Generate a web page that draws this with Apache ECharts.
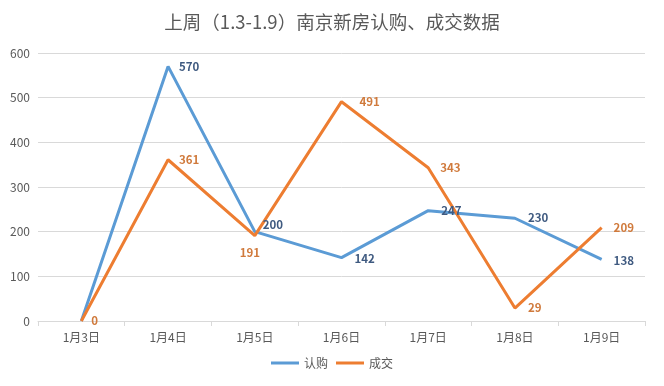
<!DOCTYPE html>
<html><head><meta charset="utf-8">
<script src="https://cdn.jsdelivr.net/npm/echarts@6/dist/echarts.min.js"></script>
<style>
html,body{margin:0;padding:0;background:#fff;}
#c{width:664px;height:386px;}
</style></head>
<body><div id="c"></div>
<script>
const categories = ['1月3日','1月4日','1月5日','1月6日','1月7日','1月8日','1月9日'];
const subscribe = [0, 570, 200, 142, 247, 230, 138];
const deal = [0, 361, 191, 491, 343, 29, 209];
const yTicks = [0, 100, 200, 300, 400, 500, 600];

const chart = echarts.init(document.getElementById('c'));
const font = '"Microsoft YaHei","Noto Sans CJK SC",sans-serif';
const blueLabelPos = [null, [11,0], [8,-7], [13,1], [13,0], [13,-1], [12,1]];
const orangeLabelPos = [[10,0], [11,0], [-15,17], [18,0], [12,0], [13,0], [12,0]];
chart.setOption({
  backgroundColor: '#fff',
  animation: false,
  title: {
    text: '上周（1.3-1.9）南京新房认购、成交数据',
    left: 'center', top: 8,
    textStyle: {fontFamily: font, fontSize: 18.5, fontWeight: 'normal', color: '#595959'}
  },
  legend: {
    bottom: 12, left: 'center',
    itemWidth: 28, itemHeight: 3, itemGap: 8,
    icon: 'rect',
    textStyle: {fontFamily: font, fontSize: 12, color: '#595959'},
    data: ['认购','成交']
  },
  grid: {left: 38, right: 19, top: 53, bottom: 65},
  xAxis: {
    type: 'category', data: categories, boundaryGap: true,
    axisLine: {lineStyle: {color: '#d9d9d9'}},
    axisTick: {show: true, lineStyle: {color: '#d9d9d9'}, length: 5},
    axisLabel: {fontFamily: font, fontSize: 12, color: '#595959', margin: 10}
  },
  yAxis: {
    type: 'value', min: yTicks[0], max: yTicks[yTicks.length-1], interval: 100,
    axisLine: {show: false}, axisTick: {show: false},
    splitLine: {lineStyle: {color: '#d9d9d9'}},
    axisLabel: {fontFamily: font, fontSize: 12, color: '#595959', margin: 8}
  },
  series: [
    {
      name: '认购', type: 'line',
      data: subscribe.map((v,i)=>({value:v, label: blueLabelPos[i] ? {show:true, position: blueLabelPos[i]} : {show:false}})),
      symbol: 'circle', symbolSize: 0.1, showSymbol: true,
      lineStyle: {width: 3, color: '#5b9bd5'}, itemStyle: {color: '#5b9bd5'},
      label: {show: true, fontFamily: font, fontSize: 11.5, fontWeight: 'bold', color: '#3f5a80', align: 'left', verticalAlign: 'middle'}
    },
    {
      name: '成交', type: 'line',
      data: deal.map((v,i)=>({value:v, label: {show:true, position: orangeLabelPos[i]}})),
      symbol: 'circle', symbolSize: 0.1, showSymbol: true,
      lineStyle: {width: 3, color: '#ed7d31'}, itemStyle: {color: '#ed7d31'},
      label: {show: true, fontFamily: font, fontSize: 11.5, fontWeight: 'bold', color: '#d07a3c', align: 'left', verticalAlign: 'middle'}
    }
  ]
});
</script></body></html>
